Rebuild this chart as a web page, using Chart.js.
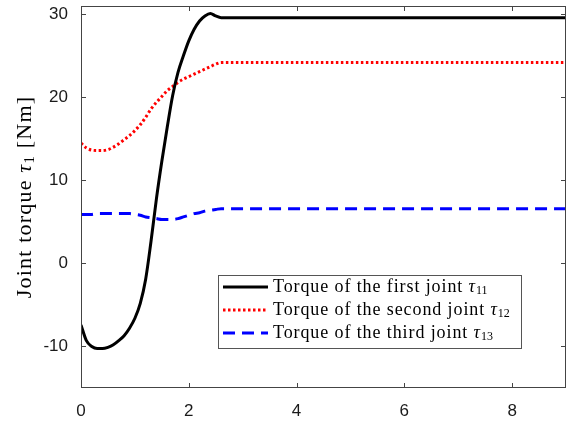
<!DOCTYPE html>
<html>
<head>
<meta charset="utf-8">
<script src="https://cdn.jsdelivr.net/npm/chart.js@4"></script>
<style>
  body { margin: 0; background: #fff; }
</style>
</head>
<body>
<canvas id="c" width="573" height="421"></canvas>
<script>
// time axis [s]
const time = [0, 0.1, 0.2, 0.3, 0.4, 0.5, 0.6, 0.7, 0.8, 0.9, 1.0, 1.1, 1.2, 1.3,
  1.4, 1.5, 1.6, 1.7, 1.8, 1.9, 2.0, 2.1, 2.2, 2.3, 2.4, 2.5, 2.6, 9];

const tau11 = [-7.4, -9.3, -10.0, -10.25, -10.25, -10.1, -9.8, -9.3, -8.7, -7.8, -6.6, -4.8, -1.9, 2.7,
  7.8, 12.3, 16.4, 20.2, 23.0, 25.0, 26.8, 28.2, 29.2, 29.8, 30.1, 29.8, 29.6, 29.6];

const tau12 = [14.5, 13.9, 13.65, 13.6, 13.6, 13.7, 14.0, 14.4, 14.9, 15.4, 16.0, 16.7, 17.6, 18.6,
  19.4, 20.1, 20.8, 21.3, 21.8, 22.2, 22.5, 22.8, 23.1, 23.4, 23.7, 24.0, 24.2, 24.2];

const tau13 = [5.9, 5.9, 5.9, 6.0, 6.0, 6.0, 6.0, 6.0, 6.0, 6.0, 5.9, 5.8, 5.6, 5.5,
  5.4, 5.3, 5.3, 5.3, 5.4, 5.6, 5.8, 6.0, 6.1, 6.3, 6.4, 6.5, 6.6, 6.6];

const xTicks = [0, 2, 4, 6, 8];
const yTicks = [-10, 0, 10, 20, 30];

const seriesNames = ['Torque of the first joint ', 'Torque of the second joint ', 'Torque of the third joint '];
const seriesSubs = ['11', '12', '13'];
const yTitle = ['Joint torque ', '1', ' [Nm]'];

const toPoints = (vals) => time.map((t, i) => ({ x: t, y: vals[i] }));

const serif = '"Liberation Serif", "DejaVu Serif", serif';

// box, inner ticks, legend and y title, MATLAB style
const decor = {
  id: 'decor',
  afterDraw(chart) {
    const { ctx, chartArea: a, scales: { x, y } } = chart;
    ctx.save();
    ctx.strokeStyle = '#444';
    ctx.lineWidth = 1;
    ctx.strokeRect(Math.round(a.left) + 0.5, Math.round(a.top) + 0.5,
      Math.round(a.width) - 1, Math.round(a.height) - 1);
    ctx.beginPath();
    xTicks.forEach((v) => {
      const px = Math.round(x.getPixelForValue(v)) + 0.5;
      ctx.moveTo(px, a.bottom); ctx.lineTo(px, a.bottom - 5);
      ctx.moveTo(px, a.top); ctx.lineTo(px, a.top + 5);
    });
    yTicks.forEach((v) => {
      const py = Math.round(y.getPixelForValue(v)) + 0.5;
      ctx.moveTo(a.left, py); ctx.lineTo(a.left + 5, py);
      ctx.moveTo(a.right, py); ctx.lineTo(a.right - 5, py);
    });
    ctx.stroke();

    // legend
    const lx = 218, ly = 275, lw = 303, lh = 73;
    ctx.fillStyle = '#fff';
    ctx.fillRect(lx, ly, lw, lh);
    ctx.strokeStyle = '#555';
    ctx.strokeRect(lx + 0.5, ly + 0.5, lw, lh);
    const rows = [287, 310, 333];
    chart.data.datasets.forEach((ds, i) => {
      const ry = rows[i];
      ctx.save();
      ctx.strokeStyle = ds.borderColor;
      ctx.lineWidth = ds.borderWidth;
      ctx.setLineDash(ds.borderDash || []);
      ctx.beginPath();
      ctx.moveTo(223, ry); ctx.lineTo(268, ry);
      ctx.stroke();
      ctx.restore();
      ctx.fillStyle = '#000';
      ctx.textBaseline = 'middle';
      ctx.textAlign = 'left';
      ctx.letterSpacing = '0.9px';
      ctx.font = '18px ' + serif;
      let tx = 273;
      ctx.fillText(seriesNames[i], tx, ry);
      tx += ctx.measureText(seriesNames[i]).width;
      ctx.font = 'italic 18px ' + serif;
      ctx.fillText('τ', tx, ry);
      tx += ctx.measureText('τ').width;
      ctx.letterSpacing = '0px';
      ctx.font = '12px ' + serif;
      ctx.fillText(seriesSubs[i], tx, ry + 4);
    });

    // y title
    ctx.translate(25, (a.top + a.bottom) / 2);
    ctx.rotate(-Math.PI / 2);
    ctx.fillStyle = '#000';
    ctx.textBaseline = 'middle';
    ctx.letterSpacing = '1.2px';
    const parts = [
      { t: yTitle[0], f: '22px ' + serif, dy: 0 },
      { t: 'τ', f: 'italic 22px ' + serif, dy: 0 },
      { t: yTitle[1], f: '15px ' + serif, dy: 5 },
      { t: yTitle[2], f: '22px ' + serif, dy: 0 },
    ];
    let total = 0;
    parts.forEach((p) => { ctx.font = p.f; p.w = ctx.measureText(p.t).width; total += p.w; });
    let cx = -total / 2;
    parts.forEach((p) => { ctx.font = p.f; ctx.fillText(p.t, cx, p.dy); cx += p.w; });
    ctx.restore();
  },
};

new Chart(document.getElementById('c'), {
  type: 'line',
  data: {
    datasets: [
      {
        label: 'tau11',
        data: toPoints(tau11),
        borderColor: '#000000',
        borderWidth: 3,
        cubicInterpolationMode: 'monotone',
        pointRadius: 0,
        fill: false,
      },
      {
        label: 'tau12',
        data: toPoints(tau12),
        borderColor: '#ff0000',
        borderWidth: 3,
        borderDash: [2.5, 2.5],
        cubicInterpolationMode: 'monotone',
        pointRadius: 0,
        fill: false,
      },
      {
        label: 'tau13',
        data: toPoints(tau13),
        borderColor: '#0000ff',
        borderWidth: 3,
        borderDash: [12, 7],
        cubicInterpolationMode: 'monotone',
        pointRadius: 0,
        fill: false,
      },
    ],
  },
  options: {
    responsive: false,
    animation: false,
    layout: { padding: { top: 6, right: 7, bottom: 0, left: 0 } },
    plugins: { legend: { display: false }, tooltip: { enabled: false } },
    scales: {
      x: {
        type: 'linear',
        min: 0,
        max: 9,
        grid: { display: false, drawTicks: false },
        border: { display: false },
        afterBuildTicks: (s) => { s.ticks = xTicks.map((v) => ({ value: v })); },
        afterFit: (s) => { s.height = 33; s.paddingLeft = 0; s.paddingRight = 0; },
        ticks: {
          padding: 13,
          maxRotation: 0,
          color: '#1a1a1a',
          font: { family: '"Liberation Sans", Arial, sans-serif', size: 17 },
        },
      },
      y: {
        min: -15,
        max: 31,
        grid: { display: false, drawTicks: false },
        border: { display: false },
        afterBuildTicks: (s) => { s.ticks = yTicks.map((v) => ({ value: v })); },
        afterFit: (s) => { s.width = 81; s.paddingTop = 0; s.paddingBottom = 0; },
        ticks: {
          padding: 13,
          color: '#1a1a1a',
          font: { family: '"Liberation Sans", Arial, sans-serif', size: 17 },
        },
      },
    },
  },
  plugins: [decor],
});
</script>
</body>
</html>
